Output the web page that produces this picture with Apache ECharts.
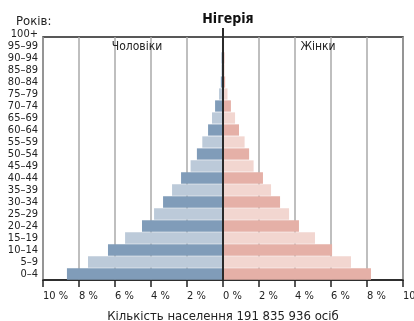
<!DOCTYPE html>
<html>
<head>
<meta charset="utf-8">
<script src="https://cdn.jsdelivr.net/npm/echarts@6/dist/echarts.min.js"></script>
<style>
html,body{margin:0;padding:0;background:#fff;}
#chart{width:414px;height:321px;}
</style>
</head>
<body>
<div id="chart"></div>
<script>
const ageGroups = ['0–4','5–9','10–14','15–19','20–24','25–29','30–34','35–39','40–44','45–49','50–54','55–59','60–64','65–69','70–74','75–79','80–84','85–89','90–94','95–99','100+'];
const malePct   = [8.67, 7.5, 6.39, 5.44, 4.5, 3.83, 3.33, 2.83, 2.33, 1.8, 1.45, 1.15, 0.83, 0.61, 0.44, 0.22, 0.12, 0.09, 0.08, 0.06, 0.05];
const femalePct = [8.22, 7.11, 6.06, 5.11, 4.22, 3.67, 3.17, 2.67, 2.22, 1.7, 1.45, 1.2, 0.89, 0.67, 0.44, 0.25, 0.12, 0.09, 0.08, 0.06, 0.05];
const xTicks = [-10,-8,-6,-4,-2,0,2,4,6,8,10];
const titleText = 'Нігерія';
const yearsLabel = 'Років:';
const maleLabel = 'Чоловіки';
const femaleLabel = 'Жінки';
const xAxisName = 'Кількість населення 191 835 936 осіб';

const FONT = "'Liberation Sans Narrow', 'DejaVu Sans Condensed', 'Noto Sans', sans-serif";
const maleColors = ['#809cb9', '#bccad9'];
const femaleColors = ['#e5b0a7', '#f2d6d0'];

const chart = echarts.init(document.getElementById('chart'), null, {renderer: 'canvas'});
chart.setOption({
  animation: false,
  textStyle: {fontFamily: FONT},
  title: [
    {text: titleText, left: 223, top: 7, textAlign: 'center',
     textStyle: {fontFamily: FONT, fontSize: 14, fontWeight: 'bold', color: '#111'}},
    {text: yearsLabel, left: 11, top: 10,
     textStyle: {fontFamily: FONT, fontSize: 13, fontWeight: 'normal', color: '#222'}},
    {text: maleLabel, left: 132, top: 36, textAlign: 'center',
     textStyle: {fontFamily: FONT, fontSize: 12, fontWeight: 'normal', color: '#222'}},
    {text: femaleLabel, left: 313, top: 36, textAlign: 'center',
     textStyle: {fontFamily: FONT, fontSize: 12, fontWeight: 'normal', color: '#222'}}
  ],
  grid: [
    {left: 43, right: 11, top: 37, bottom: 41, show: true, borderColor: '#222', borderWidth: 1.5,
     backgroundColor: 'transparent', containLabel: false, outerBoundsMode: 'none'},
    {left: 43, right: 11, top: 28, bottom: 41, containLabel: false, outerBoundsMode: 'none'}
  ],
  xAxis: [
    {gridIndex: 0, type: 'value', min: xTicks[0], max: xTicks[xTicks.length-1], interval: 2,
     axisLine: {show: true, onZero: false, lineStyle: {color: '#222', width: 1.5}},
     axisTick: {show: true, length: 7, lineStyle: {color: '#222', width: 1.5}},
     axisLabel: {margin: 11, fontSize: 11, color: '#222', fontFamily: FONT, align: 'left',
       hideOverlap: false, formatter: v => Math.abs(v) + ' %'},
     splitLine: {show: true, lineStyle: {color: '#aaaaaa', width: 1.5}},
     name: xAxisName, nameLocation: 'middle', nameGap: 30,
     nameTextStyle: {fontSize: 13, color: '#222', fontFamily: FONT}},
    {gridIndex: 1, type: 'value', min: -10, max: 10, show: false}
  ],
  yAxis: [
    {gridIndex: 0, type: 'value', min: 0, max: 1, show: false},
    {gridIndex: 1, type: 'category', data: ageGroups,
     axisLine: {show: false}, axisTick: {show: false}, splitLine: {show: false},
     axisLabel: {margin: 5, fontSize: 11, color: '#222', fontFamily: FONT, interval: 0}}
  ],
  series: [
    {name: maleLabel, type: 'bar', xAxisIndex: 1, yAxisIndex: 1,
     data: malePct.map(v => -v), barCategoryGap: '6%', barGap: '-100%',
     itemStyle: {color: p => maleColors[p.dataIndex % 2]}},
    {name: femaleLabel, type: 'bar', xAxisIndex: 1, yAxisIndex: 1,
     data: femalePct, barCategoryGap: '6%', barGap: '-100%',
     itemStyle: {color: p => femaleColors[p.dataIndex % 2]},
     markLine: {symbol: 'none', silent: true, animation: false, z: 10, label: {show: false},
       emphasis: {disabled: true},
       lineStyle: {color: '#2a2a2a', width: 2, type: 'solid'},
       data: [{xAxis: 0}]}}
  ]
});
</script>
</body>
</html>
